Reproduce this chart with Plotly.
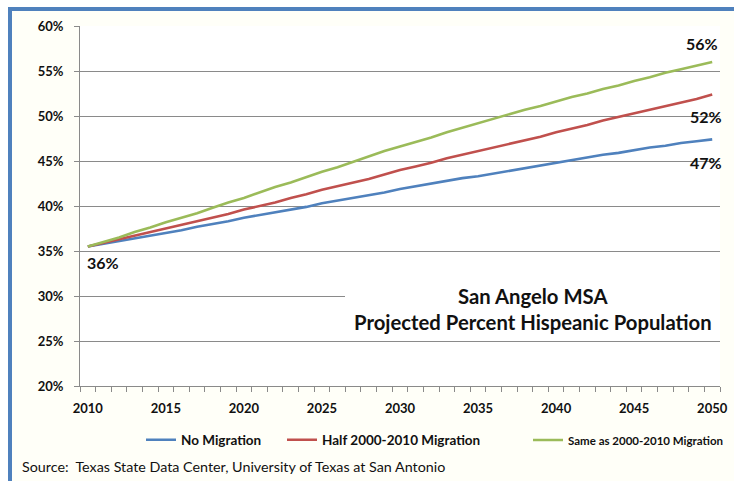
import plotly.graph_objects as go

# Projection years and percent Hispanic for each migration scenario
years = list(range(2010, 2051))

no_migration = [35.5, 35.8, 36.1, 36.4, 36.7, 37.0, 37.3, 37.7, 38.0, 38.3,
                38.7, 39.0, 39.3, 39.6, 39.9, 40.3, 40.6, 40.9, 41.2, 41.5,
                41.9, 42.2, 42.5, 42.8, 43.1, 43.3, 43.6, 43.9, 44.2, 44.5,
                44.8, 45.1, 45.4, 45.7, 45.9, 46.2, 46.5, 46.7, 47.0, 47.2,
                47.4]
half_migration = [35.5, 35.9, 36.3, 36.7, 37.1, 37.5, 37.9, 38.3, 38.7, 39.1,
                  39.6, 40.0, 40.4, 40.9, 41.3, 41.8, 42.2, 42.6, 43.0, 43.5,
                  44.0, 44.4, 44.8, 45.3, 45.7, 46.1, 46.5, 46.9, 47.3, 47.7,
                  48.2, 48.6, 49.0, 49.5, 49.9, 50.3, 50.7, 51.1, 51.5, 51.9,
                  52.4]
same_migration = [35.5, 36.0, 36.5, 37.1, 37.6, 38.2, 38.7, 39.2, 39.8, 40.4,
                  40.9, 41.5, 42.1, 42.6, 43.2, 43.8, 44.3, 44.9, 45.5, 46.1,
                  46.6, 47.1, 47.6, 48.2, 48.7, 49.2, 49.7, 50.2, 50.7, 51.1,
                  51.6, 52.1, 52.5, 53.0, 53.4, 53.9, 54.3, 54.8, 55.2, 55.6,
                  56.0]

series_names = ["No Migration", "Half 2000-2010 Migration", "Same as 2000-2010 Migration"]
series_values = [no_migration, half_migration, same_migration]
series_colors = ["#4F81BD", "#C0504D", "#9BBB59"]

y_ticks = [20, 25, 30, 35, 40, 45, 50, 55, 60]
y_labels = ["20%", "25%", "30%", "35%", "40%", "45%", "50%", "55%", "60%"]
x_ticks = [2010, 2015, 2020, 2025, 2030, 2035, 2040, 2045, 2050]

title_lines = ["San Angelo MSA", "Projected Percent Hispeanic Population"]
source_text = "Source:  Texas State Data Center, University of Texas at San Antonio"

W, H = 734, 481
ML, MR, MT, MB = 80, 14, 26, 95
PW, PH = W - ML - MR, H - MT - MB


def px_x(p):
    return (p - ML) / PW


def px_y(p):
    return (H - MB - p) / PH


FONT = "Lato"
INK = "#111111"
GRID = "#8A8A8A"

# one legend box per series so each entry sits at its own position
legend_ids = ["legend", "legend2", "legend3"]
legend_left = [141, 282, 528]
legend_size = [13.5, 13.5, 11.5]

fig = go.Figure()
for name, vals, col, lg in zip(series_names, series_values, series_colors, legend_ids):
    fig.add_trace(go.Scatter(x=years, y=vals, mode="lines", name=name,
                             legend=lg, line=dict(color=col, width=2.6)))


def pct(v):
    return f"{round(v):.0f}%"


annotations = [
    # end-of-line value labels
    dict(x=years[-1], y=same_migration[-1], text=pct(same_migration[-1]),
         xshift=-10, yshift=19),
    dict(x=years[-1], y=half_migration[-1], text=pct(half_migration[-1]),
         xshift=-6, yshift=-22),
    dict(x=years[-1], y=no_migration[-1], text=pct(no_migration[-1]),
         xshift=-6, yshift=-23),
    dict(x=years[0], y=no_migration[0], text=pct(no_migration[0]),
         xshift=15, yshift=-16),
]
for a in annotations:
    a.update(xref="x", yref="y", showarrow=False,
             xanchor="center", yanchor="middle",
             font=dict(family=FONT, size=16, color=INK, weight="bold"))

annotations += [
    dict(xref="paper", yref="paper", x=px_x(533), y=px_y(296),
         xanchor="center", yanchor="middle",
         text=title_lines[0], showarrow=False,
         font=dict(family=FONT, size=20.3, color=INK, weight="bold")),
    dict(xref="paper", yref="paper", x=px_x(533), y=px_y(322),
         xanchor="center", yanchor="middle",
         text=title_lines[1], showarrow=False,
         font=dict(family=FONT, size=20.3, color=INK, weight="bold")),
    dict(xref="paper", yref="paper", x=px_x(20), y=px_y(466),
         xanchor="left", yanchor="middle", text=source_text, showarrow=False,
         font=dict(family=FONT, size=14.3, color=INK)),
]

shapes = [
    # outer frame of the chart
    dict(type="rect", xref="paper", yref="paper", layer="below",
         x0=px_x(10), x1=px_x(770), y0=px_y(9), y1=px_y(520),
         line=dict(color="#4F81BD", width=4), fillcolor="#FFFFF8"),
    # plot area
    dict(type="rect", xref="paper", yref="paper", layer="below",
         x0=0, x1=1, y0=0, y1=1, line=dict(width=0), fillcolor="#FFFFFF"),
    # title box
    dict(type="rect", xref="paper", yref="paper", layer="above",
         x0=px_x(345), x1=1.0, y0=px_y(336), y1=px_y(276),
         line=dict(width=0), fillcolor="#FFFFFF"),
]

legends = {}
for lg, left, size in zip(legend_ids, legend_left, legend_size):
    legends[lg] = dict(orientation="h", yanchor="middle", xanchor="left",
                       bgcolor="rgba(0,0,0,0)", itemwidth=30,
                       x=px_x(left), y=px_y(440),
                       font=dict(family=FONT, size=size, color=INK, weight="bold"))

fig.update_layout(
    width=W, height=H,
    margin=dict(l=ML, r=MR, t=MT, b=MB, autoexpand=False),
    paper_bgcolor="#FFFFFF",
    plot_bgcolor="rgba(0,0,0,0)",
    font=dict(family=FONT, color=INK),
    showlegend=True,
    annotations=annotations,
    shapes=shapes,
    xaxis=dict(range=[2009.5, 2050.5], tickmode="array", tickvals=x_ticks,
               ticks="", showgrid=False, zeroline=False, automargin=False,
               showline=True, linecolor=GRID, linewidth=1,
               ticklabelstandoff=10,
               tickfont=dict(family=FONT, size=13, color=INK, weight="bold"),
               minor=dict(tick0=2009.5, dtick=1, ticks="outside", ticklen=5,
                          tickcolor=GRID, showgrid=False)),
    yaxis=dict(range=[20, 60], tickmode="array", tickvals=y_ticks,
               ticktext=y_labels, ticks="outside", ticklen=5, tickcolor=GRID,
               showgrid=True, gridcolor=GRID, gridwidth=1, zeroline=False,
               automargin=False,
               showline=True, linecolor=GRID, linewidth=1,
               ticklabelstandoff=8,
               tickfont=dict(family=FONT, size=13, color=INK, weight="bold")),
    **legends,
)

fig.write_html("out.html")
